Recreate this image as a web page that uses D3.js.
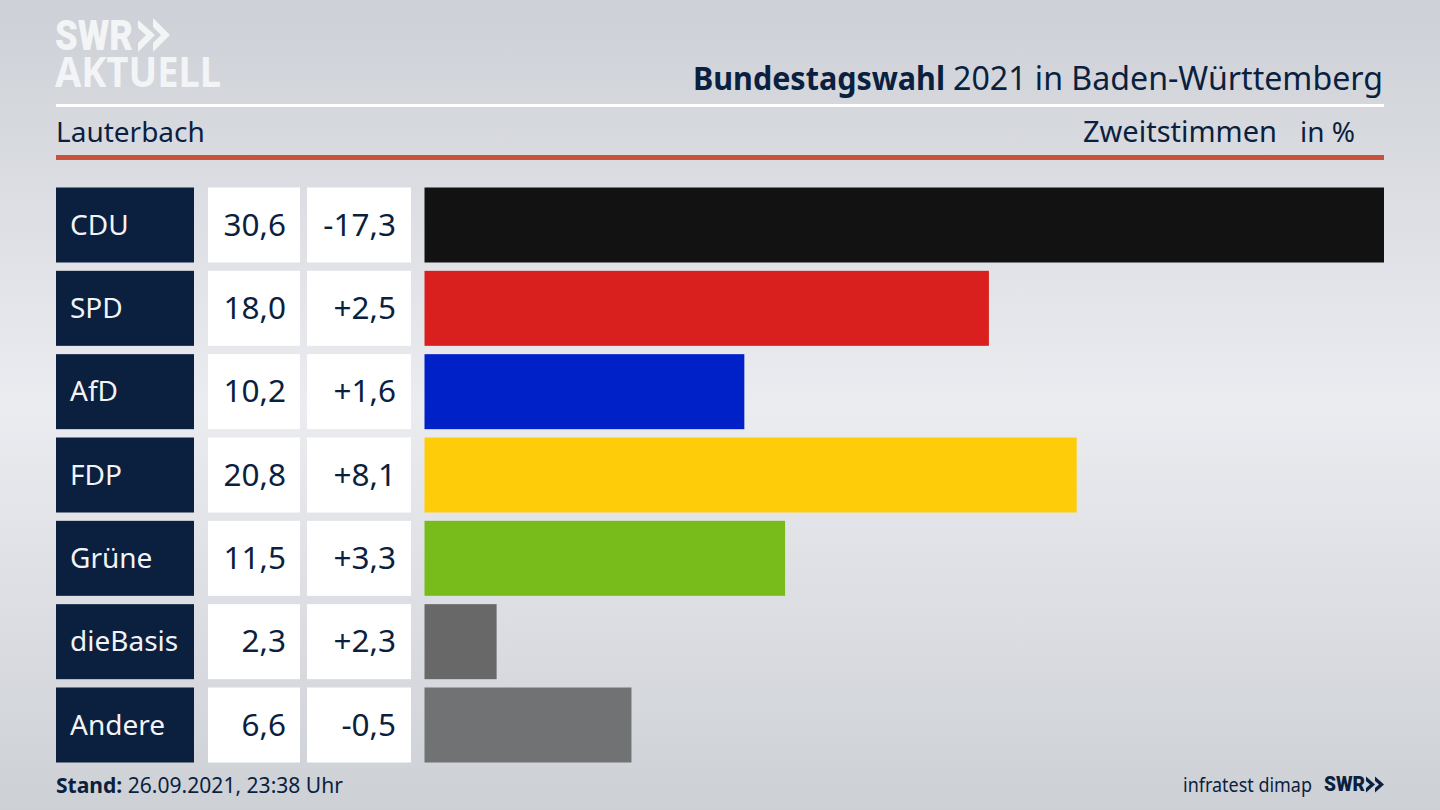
<!DOCTYPE html>
<html>
<head>
<meta charset="utf-8">
<script src="https://cdn.jsdelivr.net/npm/d3@7"></script>
<style>
html, body { margin: 0; padding: 0; background: #d5d7dc; overflow: hidden; }
text { font-family: "Noto Sans", sans-serif; fill: #0b1f3f; }
</style>
</head>
<body>
<script>
var parties = ["CDU", "SPD", "AfD", "FDP", "Grüne", "dieBasis", "Andere"];
var shares = [30.6, 18.0, 10.2, 20.8, 11.5, 2.3, 6.6];
var shareLabels = ["30,6", "18,0", "10,2", "20,8", "11,5", "2,3", "6,6"];
var diffLabels = ["-17,3", "+2,5", "+1,6", "+8,1", "+3,3", "+2,3", "-0,5"];
var barColors = ["#121212", "#d9201f", "#0021c8", "#ffcc0a", "#78bc1b", "#686868", "#717274"];

var navy = "#0b1f3f";
var svg = d3.select("body").append("svg").attr("width", 1440).attr("height", 810);

var defs = svg.append("defs");
var grad = defs.append("linearGradient").attr("id", "bg").attr("x1", 0).attr("x2", 0).attr("y1", 0).attr("y2", 1);
grad.append("stop").attr("offset", "0%").attr("stop-color", "#cdd0d6");
grad.append("stop").attr("offset", "50%").attr("stop-color", "#ebecf0");
grad.append("stop").attr("offset", "100%").attr("stop-color", "#cdd0d5");
svg.append("rect").attr("width", 1440).attr("height", 810).attr("fill", "url(#bg)");

// scales
var scaleX = d3.scaleLinear().domain([0, 30.6]).range([424.5, 1384]);
var scaleY = d3.scaleBand().domain(parties).range([187.5, 762.5]).paddingInner(0.1);
var rowH = scaleY.bandwidth();

function label(x, y, txt, size, anchor, weight) {
	return svg.append("text").attr("x", x).attr("y", y).attr("font-size", size)
		.attr("text-anchor", anchor || "start").attr("font-weight", weight || 400).text(txt);
}

// header
svg.append("rect").attr("x", 56).attr("y", 104).attr("width", 1328).attr("height", 3).attr("fill", "#ffffff");
svg.append("rect").attr("x", 56).attr("y", 155).attr("width", 1328).attr("height", 5).attr("fill", "#c9503c");

// title parts are fitted separately, bold runs narrower than in the original font
label(693, 90, "Bundestagswahl", 32, "start", 700).attr("textLength", 252).attr("lengthAdjust", "spacingAndGlyphs");
label(953, 90, "2021 in Baden-Württemberg", 32).attr("textLength", 430).attr("lengthAdjust", "spacingAndGlyphs");

label(56, 142, "Lauterbach", 28);
label(1277, 142, "Zweitstimmen", 29, "end");
label(1355, 142, "in %", 28, "end");

// logo
var logo = svg.append("g");
logo.append("text").attr("x", 55).attr("y", 50).attr("font-size", 42).attr("font-weight", 900)
	.attr("textLength", 78).attr("lengthAdjust", "spacingAndGlyphs").style("fill", "#f3f4f6").style("font-family", "Roboto").text("SWR");
logo.append("text").attr("x", 55).attr("y", 87).attr("font-size", 42).attr("font-weight", 700)
	.attr("textLength", 166).attr("lengthAdjust", "spacingAndGlyphs").style("fill", "#f3f4f6").text("AKTUELL");
logo.append("path").attr("fill", "#f3f4f6")
	.attr("d", "M138,20 L155,35 L138,52 L138,43 L146,35 L138,28 Z M153,18 L170,35 L153,52 L153,43 L161,35 L153,27 Z");

// rows
var rows = svg.selectAll("g.row").data(parties).enter().append("g").attr("class", "row")
	.attr("transform", function(d) { return "translate(0," + scaleY(d) + ")"; });

rows.append("rect").attr("x", 56).attr("width", 138).attr("height", rowH).attr("fill", "#0b1f3f");
rows.append("rect").attr("x", 208).attr("width", 92).attr("height", rowH).attr("fill", "#ffffff");
rows.append("rect").attr("x", 307).attr("width", 104).attr("height", rowH).attr("fill", "#ffffff");
rows.append("rect").attr("x", scaleX(0)).attr("height", rowH)
	.attr("width", function(d, i) { return scaleX(shares[i]) - scaleX(0); })
	.attr("fill", function(d, i) { return barColors[i]; });

rows.append("text").attr("x", 70).attr("y", 47).attr("font-size", 28).style("fill", "#f2f3f6").text(function(d) { return d; });
rows.append("text").attr("x", 286).attr("y", 48).attr("font-size", 31.5).attr("text-anchor", "end").text(function(d, i) { return shareLabels[i]; });
rows.append("text").attr("x", 396).attr("y", 48).attr("font-size", 31.5).attr("text-anchor", "end").text(function(d, i) { return diffLabels[i]; });

// footer
var stand = svg.append("text").attr("x", 56).attr("y", 793).attr("font-size", 22)
	.attr("textLength", 287).attr("lengthAdjust", "spacingAndGlyphs");
stand.append("tspan").attr("font-weight", 700).text("Stand:");
stand.append("tspan").text(" 26.09.2021, 23:38 Uhr");
svg.append("text").attr("x", 1183).attr("y", 792).attr("font-size", 20)
	.attr("textLength", 129).attr("lengthAdjust", "spacingAndGlyphs").text("infratest dimap");
svg.append("text").attr("x", 1324).attr("y", 791).attr("font-size", 20).attr("font-weight", 900)
	.attr("textLength", 41).attr("lengthAdjust", "spacingAndGlyphs").style("font-family", "Roboto").text("SWR");
svg.append("path").attr("fill", navy)
	.attr("d", "M1366,776.5 L1375,784.5 L1366,792.5 L1366,788 L1370,784.5 L1366,781 Z M1375,776.5 L1384,784.5 L1375,792.5 L1375,788 L1379,784.5 L1375,781 Z");
</script>
</body>
</html>
